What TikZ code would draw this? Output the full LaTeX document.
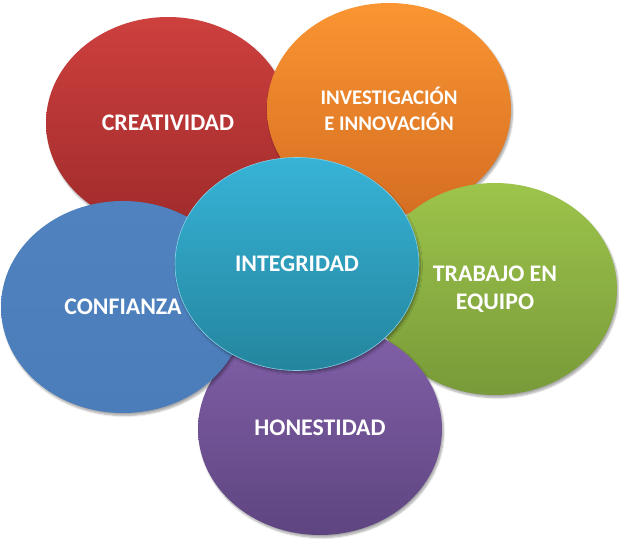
\documentclass[tikz,border=0pt]{standalone}
\usepackage{fontspec}
\setmainfont{Carlito}
\usetikzlibrary{shapes.geometric,shadows.blur}
\definecolor{redT}{HTML}{CD403E}
\definecolor{redB}{HTML}{A02B2B}
\definecolor{orgT}{HTML}{FA9532}
\definecolor{orgB}{HTML}{D56E22}
\definecolor{bluT}{HTML}{4F82BE}
\definecolor{bluB}{HTML}{4A7DBA}
\definecolor{grnT}{HTML}{9DC44B}
\definecolor{grnB}{HTML}{789A39}
\definecolor{purT}{HTML}{8260A9}
\definecolor{purB}{HTML}{5E4580}
\definecolor{tealT}{HTML}{37B3D7}
\definecolor{tealB}{HTML}{24859E}
\tikzset{
  petal/.style={ellipse, minimum width=244pt, minimum height=212pt, inner sep=0pt,
    text=white, font=\bfseries\fontsize{23.8}{28}\selectfont, align=center,
    blur shadow={shadow xshift=1.5pt, shadow yshift=-2.5pt, shadow blur steps=6, shadow opacity=35}},
}
\begin{document}
\begin{tikzpicture}[x=1pt,y=-1pt]
\useasboundingbox (0,0) rectangle (619,539);
\node[petal, top color=redT, bottom color=redB] (crea) at (168,123) {CREATIVIDAD};
\node[petal, top color=orgT, bottom color=orgB, font=\bfseries\fontsize{20.8}{26}\selectfont] (inv) at (389,109) {INVESTIGACIÓN\\E INNOVACIÓN};
\node[petal, top color=grnT, bottom color=grnB] (trab) at (495,289) {TRABAJO EN\\EQUIPO};
\node[petal, top color=purT, bottom color=purB] (hon) at (320,429) {\raisebox{3pt}{HONESTIDAD}};
\node[petal, top color=bluT, bottom color=bluB] (conf) at (123,307) {CONFIANZA};
\node[petal, top color=tealT, bottom color=tealB, draw=tealT!60!white, line width=0.6pt, minimum height=213pt] (integ) at (297,264) {\raisebox{1.5pt}{INTEGRIDAD}};
\end{tikzpicture}
\end{document}
